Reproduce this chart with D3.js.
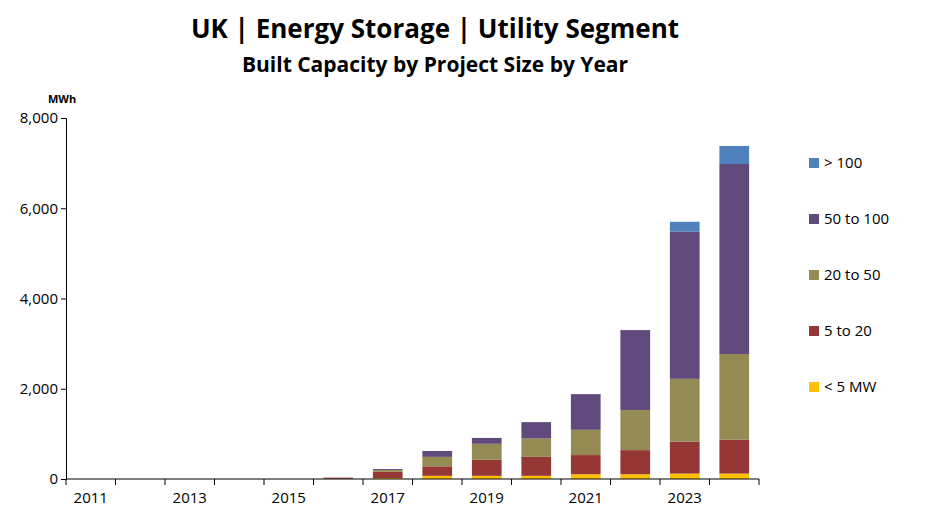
<!DOCTYPE html>
<html><head><meta charset="utf-8">
<script src="https://cdn.jsdelivr.net/npm/d3@7"></script>
<style>body{margin:0;background:#fff;font-family:"Open Sans",sans-serif;}</style>
</head><body>
<svg id="c" width="942" height="514"></svg>
<script>
const years = d3.range(2011, 2025).map(String);
const seriesNames = ["< 5 MW", "5 to 20", "20 to 50", "50 to 100", "> 100"];
const colors = ["#ffc000", "#953735", "#948a54", "#604a7b", "#4f81bd"];
// cumulative-free values per segment, MWh
const lt5     = [0,0,0,0,0,5,20,70,70,70,105,105,120,120];
const s5to20  = [0,0,0,0,0,25,140,210,360,420,425,535,710,750];
const s20to50 = [0,0,0,0,0,0,40,210,350,410,560,890,1390,1900];
const s50to100= [0,0,0,0,0,0,20,130,130,360,790,1770,3260,4210];
const gt100   = [0,0,0,0,0,0,0,0,0,0,0,0,220,400];
const yTicks = [0, 2000, 4000, 6000, 8000];

const rows = years.map((y, i) => ({year: y, "< 5 MW": lt5[i], "5 to 20": s5to20[i],
  "20 to 50": s20to50[i], "50 to 100": s50to100[i], "> 100": gt100[i]}));
const stack = d3.stack().keys(seriesNames)(rows);

const svg = d3.select("#c");
const m = {l: 66, r: 759, t: 118, b: 479};
const x = d3.scaleBand().domain(years).range([m.l, m.r]).paddingInner(0.4).paddingOuter(0.2);
const y = d3.scaleLinear().domain([0, 8000]).range([m.b, m.t]);

svg.append("text").attr("x", 435).attr("y", 38).attr("text-anchor", "middle")
  .attr("font-size", 26).attr("font-weight", "bold").text("UK | Energy Storage | Utility Segment");
svg.append("text").attr("x", 435).attr("y", 72).attr("text-anchor", "middle")
  .attr("font-size", 21).attr("font-weight", "bold").text("Built Capacity by Project Size by Year");
svg.append("text").attr("x", 48).attr("y", 103).attr("font-size", 11).attr("font-weight", "bold").text("MWh");

svg.append("g").selectAll("g").data(stack).join("g").attr("fill", (d, i) => colors[i])
  .selectAll("rect").data(d => d).join("rect")
  .attr("x", d => x(d.data.year)).attr("width", x.bandwidth())
  .attr("y", d => y(d[1])).attr("height", d => y(d[0]) - y(d[1]));

const ya = svg.append("g").attr("transform", `translate(${m.l},0)`)
  .call(d3.axisLeft(y).tickValues(yTicks).tickFormat(d3.format(",")).tickSize(5));
ya.selectAll("text").attr("font-size", 15).attr("font-family", "Open Sans");
ya.select(".domain").attr("stroke", "#000");

const step = x.step();
const xa = svg.append("g").attr("transform", `translate(0,${m.b})`);
xa.append("line").attr("x1", m.l).attr("x2", m.r).attr("stroke", "#000");
xa.selectAll(".t").data(d3.range(years.length + 1)).join("line")
  .attr("x1", i => m.l + i * (m.r - m.l) / years.length).attr("x2", i => m.l + i * (m.r - m.l) / years.length)
  .attr("y1", 0).attr("y2", 6).attr("stroke", "#000");
xa.selectAll("text").data(years.filter((d, i) => i % 2 === 0)).join("text")
  .attr("x", d => x(d) + x.bandwidth() / 2).attr("y", 24).attr("text-anchor", "middle")
  .attr("font-size", 15).text(d => d);

const lg = svg.append("g").selectAll("g").data(seriesNames.slice().reverse()).join("g")
  .attr("transform", (d, i) => `translate(809,${164 + i * 56})`);
lg.append("rect").attr("width", 10).attr("height", 10).attr("y", -6)
  .attr("fill", d => colors[seriesNames.indexOf(d)]);
lg.append("text").attr("x", 15).attr("y", 4).attr("font-size", 15).text(d => d);
</script>
</body></html>
